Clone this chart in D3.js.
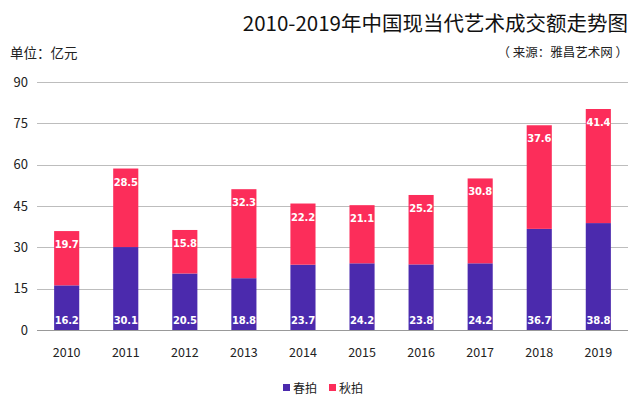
<!DOCTYPE html>
<html><head><meta charset="utf-8">
<script src="https://cdn.jsdelivr.net/npm/d3@7"></script>
<style>body{margin:0;background:#fff;}svg{display:block;}</style>
</head><body>
<svg id="chart" width="640" height="408"></svg>
<script>
const years = ["2010","2011","2012","2013","2014","2015","2016","2017","2018","2019"];
const spring = [16.2,30.1,20.5,18.8,23.7,24.2,23.8,24.2,36.7,38.8];
const autumn = [19.7,28.5,15.8,32.3,22.2,21.1,25.2,30.8,37.6,41.4];
const yTicks = [0,15,30,45,60,75,90];
const seriesNames = ["春拍","秋拍"];
const colors = ["#4b2aad","#fc2d5a"];

const svg = d3.select("#chart");
const font = "'Microsoft YaHei','Noto Sans CJK SC','Noto Sans',sans-serif";
const x = d3.scaleBand().domain(years).range([37,628]).paddingInner(0.575).paddingOuter(0.29);
const y = d3.scaleLinear().domain([0,90]).range([330,82]);

svg.append("text").attr("x",628).attr("y",31).attr("text-anchor","end")
  .attr("font-family",font).attr("font-size",20.5).attr("fill","#111")
  .text("2010-2019年中国现当代艺术成交额走势图");
svg.append("text").attr("x",10).attr("y",58)
  .attr("font-family",font).attr("font-size",13.5).attr("fill","#222").text("单位：亿元");
svg.append("text").attr("x",628).attr("y",57).attr("text-anchor","end")
  .attr("font-family",font).attr("font-size",12.5).attr("fill","#222").text("（ 来源：雅昌艺术网 ）");

svg.append("g").selectAll("line").data(yTicks).join("line")
  .attr("x1",37).attr("x2",628).attr("y1",d=>Math.round(y(d))+0.5).attr("y2",d=>Math.round(y(d))+0.5)
  .attr("stroke",d=>d===0?"#999":"#bdbdbd").attr("stroke-width",1);

const yAxis = svg.append("g").attr("transform","translate(28,0)")
  .call(d3.axisLeft(y).tickValues(yTicks).tickSize(0).tickPadding(0));
yAxis.select(".domain").remove();
yAxis.selectAll("text").attr("font-family",font).attr("font-size",13).attr("fill","#222").attr("text-anchor","end");

const xAxis = svg.append("g").attr("transform","translate(0,348)")
  .call(d3.axisBottom(x).tickSize(0).tickPadding(0));
xAxis.select(".domain").remove();
xAxis.selectAll("text").attr("font-family",font).attr("font-size",12.5).attr("fill","#222").attr("dy","0.71em");

const data = years.map((yr,i)=>({year:yr,spring:spring[i],autumn:autumn[i]}));
const stack = d3.stack().keys(["spring","autumn"])(data);

const g = svg.append("g");
stack.forEach((layer,li)=>{
  g.append("g").selectAll("rect").data(layer).join("rect")
    .attr("x",d=>x(d.data.year)).attr("width",x.bandwidth())
    .attr("y",d=>y(d[1])).attr("height",d=>y(d[0])-y(d[1]))
    .attr("fill",colors[li]);
});
const lblFont = "'DejaVu Sans',Verdana,sans-serif";
g.append("g").selectAll("text").data(stack[0]).join("text")
  .attr("x",d=>x(d.data.year)+x.bandwidth()/2).attr("y",d=>y(d[0])-6.5)
  .attr("text-anchor","middle").attr("font-family",lblFont)
  .attr("font-weight","bold").attr("font-size",10).attr("letter-spacing",-0.2).attr("fill","#fff")
  .text(d=>d.data.spring.toFixed(1));
g.append("g").selectAll("text").data(stack[1]).join("text")
  .attr("x",d=>x(d.data.year)+x.bandwidth()/2).attr("y",d=>y(d[1])+17)
  .attr("text-anchor","middle").attr("font-family",lblFont)
  .attr("font-weight","bold").attr("font-size",10).attr("letter-spacing",-0.2).attr("fill","#fff")
  .text(d=>d.data.autumn.toFixed(1));

const lg = svg.append("g");
const lx = [283,329];
seriesNames.forEach((n,i)=>{
  lg.append("rect").attr("x",lx[i]).attr("y",384).attr("width",7).attr("height",7).attr("fill",colors[i]);
  lg.append("text").attr("x",lx[i]+10).attr("y",393).attr("font-family",font).attr("font-size",12).attr("fill","#222").text(n);
});
</script>
</body></html>
